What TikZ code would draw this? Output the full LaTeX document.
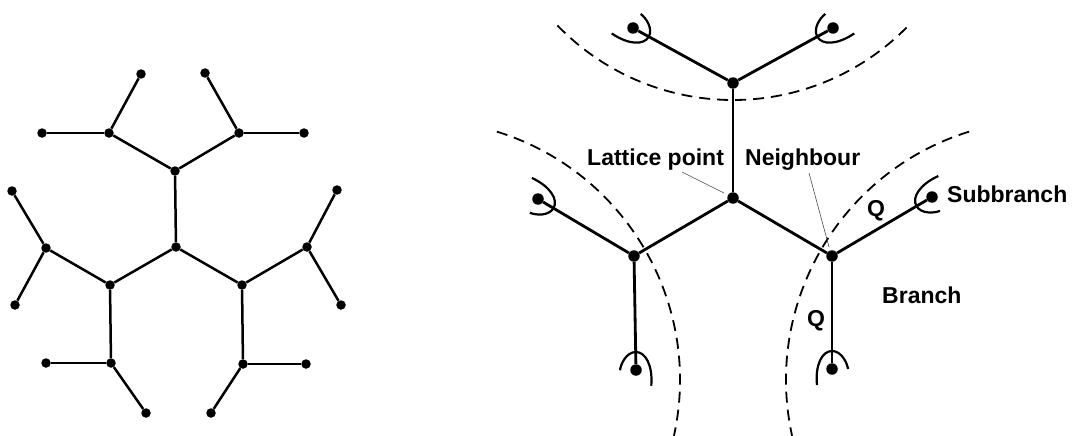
\documentclass[tikz,border=0pt]{standalone}
\usepackage{fontspec}
\setmainfont{Liberation Sans}
\tikzset{
  edge/.style={line width=2.5pt},
  redge/.style={line width=2.8pt},
  sdot/.style={circle, fill=black, inner sep=0pt, minimum size=9.5pt},
  rdot/.style={circle, fill=black, inner sep=0pt, minimum size=11.5pt},
  cupline/.style={line width=2.2pt},
  boundary/.style={line width=1.8pt, dash pattern=on 11pt off 7pt},
  lbl/.style={font=\fontsize{23}{27}\selectfont\bfseries, inner sep=0pt, anchor=base west},
  pointer/.style={line width=0.6pt, black!70},
}
\newcommand\leafcup[3]{%
  \begin{scope}[shift={(#1)}, rotate=#2, yscale=#3, x=1pt, y=1pt]
    \draw[cupline] (-16,15) .. controls (4,17) and (18,10) .. (18,0)
                   .. controls (18,-9) and (7,-15) .. (0,-16);
  \end{scope}}
\begin{document}
\begin{tikzpicture}[x=1pt, y=-1pt]
\useasboundingbox (0,0) rectangle (1076,436);
% ---------------- left tree ----------------
\node[sdot] (C) at (176,247) {};
\node[sdot] (T) at (175,171) {};
\node[sdot] (L) at (110,285) {};
\node[sdot] (R) at (242,285) {};
\node[sdot] (TL) at (109,133) {};
\node[sdot] (TR) at (239,133) {};
\node[sdot] (TLa) at (42,133) {};
\node[sdot] (TLb) at (141,74) {};
\node[sdot] (TRa) at (304,133) {};
\node[sdot] (TRb) at (205,73) {};
\node[sdot] (LL) at (46,248) {};
\node[sdot] (LB) at (111,363) {};
\node[sdot] (LLa) at (12,191) {};
\node[sdot] (LLb) at (15,305) {};
\node[sdot] (LBa) at (46,363) {};
\node[sdot] (LBb) at (146,413) {};
\node[sdot] (RR) at (307,247) {};
\node[sdot] (RB) at (243,364) {};
\node[sdot] (RRa) at (337,190) {};
\node[sdot] (RRb) at (341,305) {};
\node[sdot] (RBa) at (306,364) {};
\node[sdot] (RBb) at (211,413) {};
\draw[edge] (C) -- (T);
\draw[edge] (C) -- (L);
\draw[edge] (C) -- (R);
\draw[edge] (T) -- (TL);
\draw[edge] (T) -- (TR);
\draw[edge] (TL) -- (TLa);
\draw[edge] (TL) -- (TLb);
\draw[edge] (TR) -- (TRa);
\draw[edge] (TR) -- (TRb);
\draw[edge] (L) -- (LL);
\draw[edge] (L) -- (LB);
\draw[edge] (LL) -- (LLa);
\draw[edge] (LL) -- (LLb);
\draw[edge] (LB) -- (LBa);
\draw[edge] (LB) -- (LBb);
\draw[edge] (R) -- (RR);
\draw[edge] (R) -- (RB);
\draw[edge] (RR) -- (RRa);
\draw[edge] (RR) -- (RRb);
\draw[edge] (RB) -- (RBa);
\draw[edge] (RB) -- (RBb);
% ---------------- right diagram ----------------
\draw[boundary] (420,380) ++(-72.8:260) arc[start angle=-72.8, end angle=12.4, radius=260];
\draw[boundary] (1046,380) ++(252.8:260) arc[start angle=252.8, end angle=167.6, radius=260];
\draw[boundary] (733,-144) ++(136:244) arc[start angle=136, end angle=43.2, radius=244];
\node[rdot] (P) at (733,198) {};
\node[rdot] (T2) at (733,83) {};
\node[rdot] (L2) at (634,256) {};
\node[rdot] (N) at (832,256) {};
\node[rdot] (a) at (633,28) {};
\node[rdot] (b) at (833,28) {};
\node[rdot] (c) at (538,199) {};
\node[rdot] (d) at (636,370) {};
\node[rdot] (e) at (932,197) {};
\node[rdot] (f) at (832,369) {};
\draw[redge] (P) -- (T2);
\draw[redge] (P) -- (L2);
\draw[redge] (P) -- (N);
\draw[redge] (T2) -- (a);
\draw[redge] (T2) -- (b);
\draw[redge] (L2) -- (c);
\draw[redge] (L2) -- (d);
\draw[redge] (N) -- (e);
\draw[redge] (N) -- (f);
\leafcup{a}{-28.8}{-1}
\leafcup{b}{208.8}{1}
\leafcup{c}{-30.7}{1}
\leafcup{d}{91}{-1}
\leafcup{e}{210.1}{-1}
\leafcup{f}{90}{1}
% labels
\node[lbl] (lp) at (587,165) {Lattice point};
\node[lbl] (nb) at (745,165) {Neighbour};
\node[lbl] (sb) at (947,202) {Subbranch};
\node[lbl] (br) at (882,303) {Branch};
\node[lbl] (q1) at (867,216) {Q};
\node[lbl] (q2) at (807,326) {Q};
\coordinate (lpfoot) at (682,172);
\coordinate (lptip) at (724,193);
\coordinate (nbfoot) at (809,173);
\coordinate (nbtip) at (829,247);
\draw[pointer] (lpfoot) -- (lptip);
\draw[pointer] (nbfoot) -- (nbtip);
\end{tikzpicture}
\end{document}
